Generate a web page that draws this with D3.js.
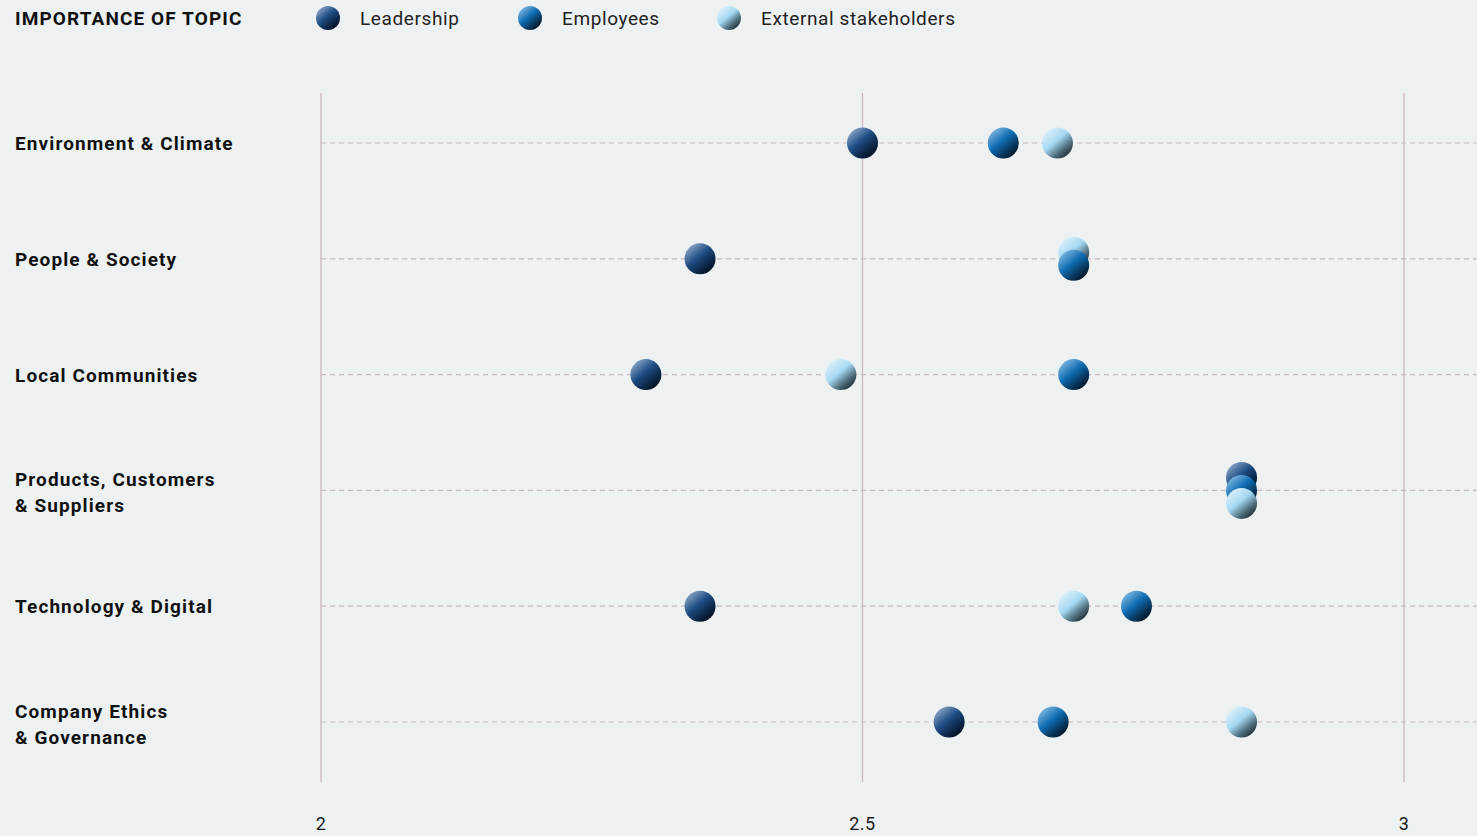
<!DOCTYPE html>
<html>
<head>
<meta charset="utf-8">
<script src="https://cdn.jsdelivr.net/npm/d3@7"></script>
<style>
  body { margin: 0; background: #eef1f2; }
  svg { display: block; font-family: Roboto, "Noto Sans", sans-serif; }
</style>
</head>
<body>
<svg id="chart"></svg>
<script>
var topics = ["Environment & Climate", "People & Society", "Local Communities",
  "Products, Customers\n& Suppliers", "Technology & Digital", "Company Ethics\n& Governance"];
var seriesNames = ["Leadership", "Employees", "External stakeholders"];
var leadership = [2.50, 2.35, 2.30, 2.85, 2.35, 2.58];
var employees = [2.63, 2.695, 2.695, 2.85, 2.753, 2.676];
var external = [2.68, 2.69, 2.48, 2.85, 2.695, 2.85];
var xTicks = [2, 2.5, 3];

var width = 1477, height = 836;
var svg = d3.select('#chart').attr('width', width).attr('height', height);

var x = d3.scaleLinear().domain([2, 3]).range([321, 1404]);
var y = d3.scalePoint().domain(topics).range([143, 722]);

// ball gradients
var grads = [
  ['#93b1d0', '#1f4c82', '#0b2748', '#030c18'],
  ['#8cc0e6', '#0f6cb2', '#08365c', '#02101c'],
  ['#e2f4fd', '#a6d8f2', '#4d6d7c', '#1c262c']
];
var defs = svg.append('defs');
grads.forEach(function(g, i) {
  var lg = defs.append('linearGradient').attr('id', 'ball' + i)
    .attr('x1', 0.1).attr('y1', 0.05).attr('x2', 0.85).attr('y2', 0.95);
  lg.append('stop').attr('offset', 0).attr('stop-color', g[0]);
  lg.append('stop').attr('offset', 0.45).attr('stop-color', g[1]);
  lg.append('stop').attr('offset', 0.75).attr('stop-color', g[2]);
  lg.append('stop').attr('offset', 1).attr('stop-color', g[3]);
});

// vertical grid
svg.selectAll('line.vgrid')
  .data(xTicks)
  .enter()
  .append('line')
  .attr('x1', function(d) { return x(d) }).attr('x2', function(d) { return x(d) })
  .attr('y1', 93).attr('y2', 782)
  .attr('stroke', '#cdb6c2').attr('stroke-width', 1.3);

// horizontal dashed lines
svg.selectAll('line.hgrid')
  .data(topics)
  .enter()
  .append('line')
  .attr('x1', 321).attr('x2', width)
  .attr('y1', function(d) { return y(d) }).attr('y2', function(d) { return y(d) })
  .attr('stroke', '#c8b9c2').attr('stroke-width', 1.2)
  .attr('stroke-dasharray', '5,4');

// x axis labels
svg.selectAll('text.xtick')
  .data(xTicks)
  .enter()
  .append('text')
  .attr('x', function(d) { return x(d) }).attr('y', 830)
  .attr('text-anchor', 'middle')
  .attr('font-size', 18).attr('letter-spacing', 0.5).attr('fill', '#1a1a1a')
  .text(function(d) { return d });

// row labels
topics.forEach(function(t) {
  var lines = t.split('\n');
  var txt = svg.append('text')
    .attr('x', 15)
    .attr('y', y(t) + 7 - (lines.length - 1) * 11)
    .attr('font-size', 19).attr('font-weight', 700)
    .attr('letter-spacing', 1.1).attr('fill', '#111');
  lines.forEach(function(l, i) {
    txt.append('tspan').attr('x', 15).attr('dy', i ? 26 : 0).text(l);
  });
});

// dots, stacked where values coincide
var series = [leadership, employees, external];
topics.forEach(function(t, r) {
  var pts = series.map(function(s, i) { return {v: s[r], i: i} });
  pts.sort(function(a, b) { return a.v - b.v || a.i - b.i });
  var groups = [];
  pts.forEach(function(p) {
    var g = groups.find(function(g) { return Math.abs(g[0].v - p.v) < 0.01 });
    if (g) g.push(p); else groups.push([p]);
  });
  groups.forEach(function(g) {
    var mid = d3.max(g, function(p) { return p.v });
    g.forEach(function(p, k) {
      svg.append('circle')
        .attr('cx', x(mid))
        .attr('cy', y(t) + (k - (g.length - 1) / 2) * 13)
        .attr('r', 15.5)
        .attr('fill', 'url(#ball' + p.i + ')');
    });
  });
});

// legend
svg.append('text').attr('x', 15).attr('y', 25)
  .attr('font-size', 19).attr('font-weight', 700)
  .attr('letter-spacing', 1.1).attr('fill', '#111')
  .text('IMPORTANCE OF TOPIC');
var legX = [328, 530, 729];
seriesNames.forEach(function(n, i) {
  svg.append('circle').attr('cx', legX[i]).attr('cy', 18).attr('r', 12)
    .attr('fill', 'url(#ball' + i + ')');
  svg.append('text').attr('x', legX[i] + 32).attr('y', 25)
    .attr('font-size', 19).attr('letter-spacing', 0.6)
    .attr('fill', '#222').text(n);
});
</script>
</body>
</html>
